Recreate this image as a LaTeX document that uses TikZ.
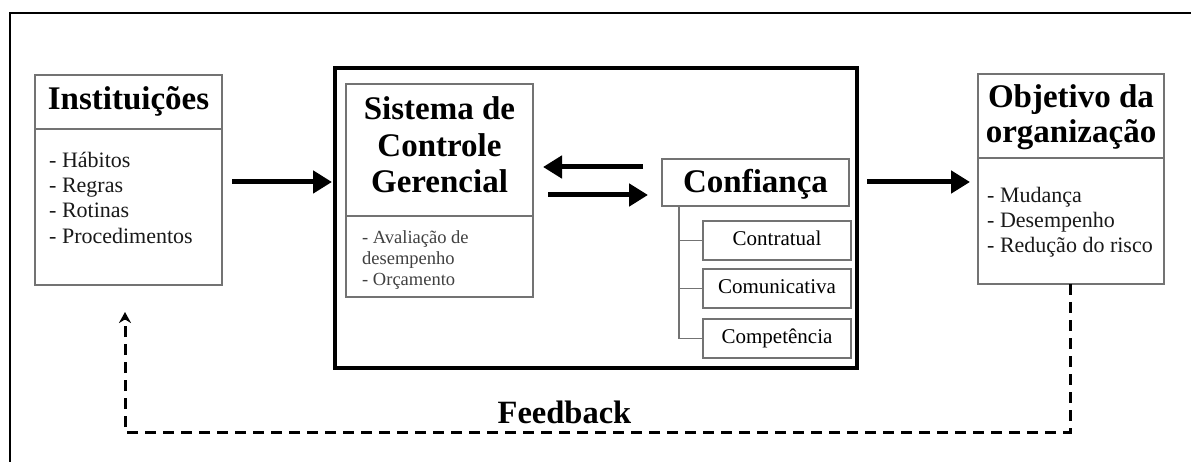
\documentclass[tikz,border=0pt]{standalone}
\usepackage{fontspec}
\setmainfont{Liberation Serif}
\usetikzlibrary{arrows.meta,calc}
\begin{document}
\begin{tikzpicture}[x=1pt,y=-1pt,
  box/.style={draw=black!55, line width=1.3pt, inner sep=0pt, outer sep=0pt, anchor=north west},
  bigbox/.style={draw=black, line width=3.3pt, inner sep=0pt, outer sep=0pt, anchor=north west},
  head/.style={font=\fontsize{33}{36}\selectfont\bfseries, anchor=base, inner sep=0pt},
  item/.style={font=\fontsize{22}{25}\selectfont, anchor=base west, inner sep=0pt, text=black!90},
  smallitem/.style={font=\fontsize{18.5}{21}\selectfont, anchor=base west, inner sep=0pt, text=black!75},
  sub/.style={font=\fontsize{21}{24}\selectfont, anchor=base, inner sep=0pt},
  bigarrow/.style={line width=5pt, -{Triangle[length=19pt,width=22pt]}},
  fb/.style={line width=3pt, dash pattern=on 11pt off 7pt, -{Stealth[length=11pt,width=12pt]}},
  tree/.style={draw=black!55, line width=1.3pt},
  frame/.style={line width=2.6pt}
]
\useasboundingbox[fill=white] (0,0) rectangle (1191,462);

% outer frame (top and left only visible)
\draw[frame] (1191,13) -| (10,462);

% Instituicoes
\node[box, minimum width=187pt, minimum height=54pt] (instt) at (35,75) {};
\node[box, minimum width=187pt, minimum height=156pt] (instb) at (35,129) {};
\node[head] (instl) at (128.5,110) {Instituições};
\node[item] (i1) at (49,168) {- Hábitos};
\node[item] (i2) at (49,193) {- Regras};
\node[item] (i3) at (49,218) {- Rotinas};
\node[item] (i4) at (49,244) {- Procedimentos};

% big inner box
\node[bigbox, minimum width=522pt, minimum height=300pt] (outer) at (335,68) {};

% SCG
\node[box, minimum width=187pt, minimum height=132pt] (scgt) at (346,84) {};
\node[box, minimum width=187pt, minimum height=81pt] (scgb) at (346,216) {};
\node[head] (s1) at (439.5,120) {Sistema de};
\node[head] (s2) at (439.5,157) {Controle};
\node[head] (s3) at (439.5,193) {Gerencial};
\node[smallitem] (a1) at (362,244) {- Avaliação de};
\node[smallitem] (a2) at (362,265) {desempenho};
\node[smallitem] (a3) at (362,286) {- Orçamento};

% Confianca
\node[box, minimum width=187pt, minimum height=47pt] (conf) at (662,159) {};
\node[head] (confl) at (755.5,193) {Confiança};
\node[box, minimum width=148pt, minimum height=39pt] (c1) at (703,221) {};
\node[box, minimum width=148pt, minimum height=39pt] (c2) at (703,269) {};
\node[box, minimum width=148pt, minimum height=39pt] (c3) at (703,319) {};
\node[sub] (c1l) at (777,246) {Contratual};
\node[sub] (c2l) at (777,294) {Comunicativa};
\node[sub] (c3l) at (777,343) {Competência};

\coordinate (trunk) at ($(conf.south west)+(17,0)$);
\draw[tree] (trunk) |- (c3.west);
\draw[tree] (c1.west) -- (c1.west -| trunk);
\draw[tree] (c2.west) -- (c2.west -| trunk);

% Objetivo
\node[box, minimum width=186pt, minimum height=84pt] (objt) at (978,74) {};
\node[box, minimum width=186pt, minimum height=126pt] (objb) at (978,158) {};
\node[head] (o1) at (1071,108) {Objetivo da};
\node[head] (o2) at (1071,143) {organização};
\node[item] (b1) at (987,203) {- Mudança};
\node[item] (b2) at (987,228) {- Desempenho};
\node[item] (b3) at (987,253) {- Redução do risco};

% arrows
\coordinate (ar1s) at ($(instt.south east)+(10,53)$);
\coordinate (ar1e) at (outer.west |- ar1s);
\draw[bigarrow, shorten >=3pt] (ar1s) -- (ar1e);

\coordinate (la1) at ($(conf.west)+(-19,-15.5)$);
\coordinate (la2) at ($(scgt.east |- la1)+(10,0)$);
\draw[bigarrow] (la1) -- (la2);

\coordinate (ra1) at ($(conf.west)+(-14,12.5)$);
\coordinate (ra0) at ($(scgt.east |- ra1)+(15,0)$);
\draw[bigarrow] (ra0) -- (ra1);

\coordinate (ar3s) at ($(outer.east |- objb.north west)+(10,24)$);
\coordinate (ar3e) at ($(objb.west |- ar3s)+(-8,0)$);
\draw[bigarrow] (ar3s) -- (ar3e);

% feedback
\coordinate (fbl) at (125,432);
\coordinate (fbend) at (125,312);
\draw[fb] (objb.south -| 1070,0) |- (fbl) -- (fbend);
\node[head, font=\fontsize{32.5}{36}\selectfont\bfseries] (fbtxt) at (564.5,423) {Feedback};
\end{tikzpicture}
\end{document}
